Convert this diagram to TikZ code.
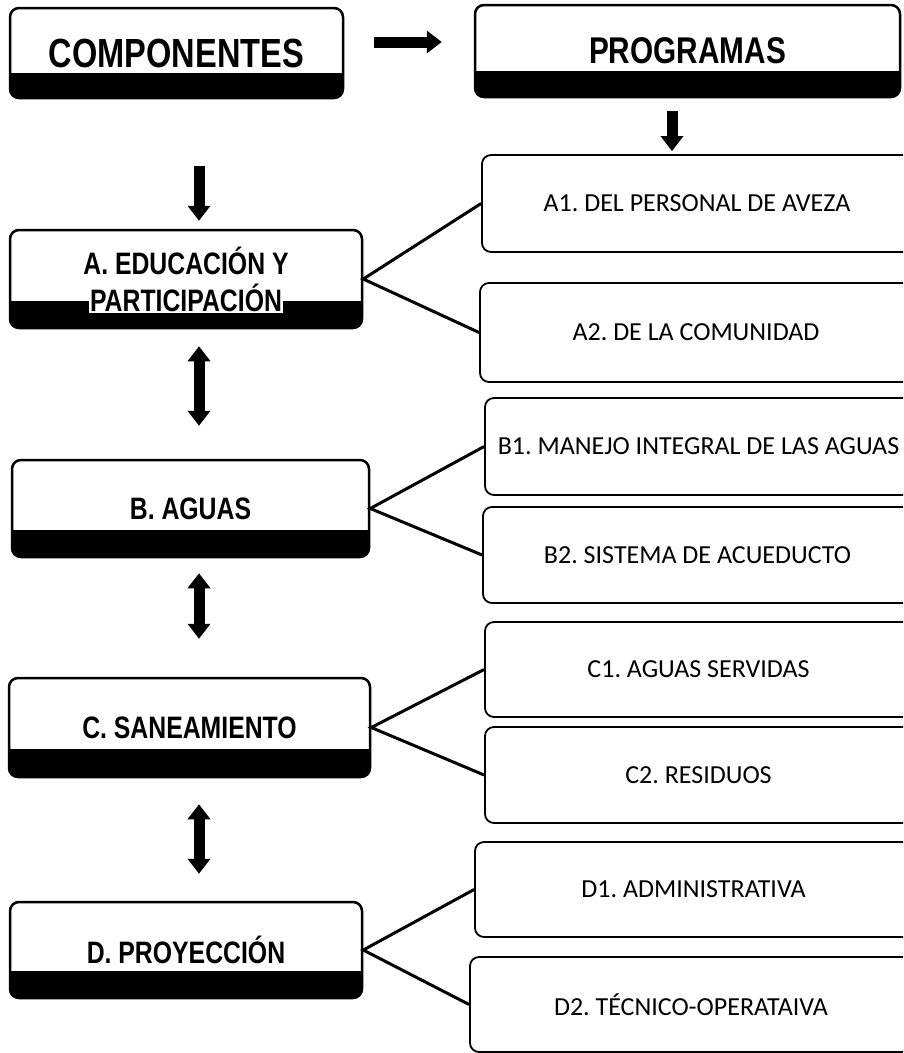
\documentclass[tikz,border=0pt]{standalone}
\usepackage{fontspec}
\setmainfont{Carlito}
\newfontfamily\narrowsans[FakeStretch=0.8]{Liberation Sans}
\usetikzlibrary{arrows.meta,calc}
\newcommand{\whitebg}[1]{{\setlength{\fboxsep}{1.5pt}\colorbox{white}{#1}}}
\tikzset{
  compbox/.style={draw=black, line width=2.5pt, rounded corners=9pt, fill=white, inner sep=0pt, align=center, font=\narrowsans\bfseries\fontsize{31}{37}\selectfont,
    path picture={\fill[black, sharp corners] (path picture bounding box.south west) rectangle ($(path picture bounding box.south east)!0.28!(path picture bounding box.north east)$);}},
  progbox/.style={draw=black, line width=1.8pt, rounded corners=9pt, fill=white, inner sep=0pt, align=center, font=\fontsize{26}{30}\selectfont},
  link/.style={line width=3pt},
  blk/.style={line width=11pt, -{Triangle[width=22pt,length=15pt]}},
  dblk/.style={line width=11pt, {Triangle[width=22pt,length=15pt]}-{Triangle[width=22pt,length=15pt]}}
}
\frenchspacing
\begin{document}
\begin{tikzpicture}[x=1pt,y=1pt]
\useasboundingbox (0,0) rectangle (903,-1053);
\clip (0,0) rectangle (903,-1053);
\coordinate (col) at (199,0);
\coordinate (pcol) at (672,0);
\node[compbox, minimum width=333pt, minimum height=90pt, font=\narrowsans\bfseries\fontsize{40.7}{44}\selectfont] (compo) at (176.5,-53) {\whitebg{COMPONENTES}};
\node[compbox, minimum width=425pt, minimum height=92pt, font=\narrowsans\bfseries\fontsize{37.2}{42}\selectfont] (prog) at (687.5,-51) {\whitebg{PROGRAMAS}};
\node[compbox, minimum width=352pt, minimum height=98pt] (a) at (186,-279) {\whitebg{A. EDUCACIÓN Y}\\\whitebg{PARTICIPACIÓN}};
\node[compbox, minimum width=357pt, minimum height=97pt] (b) at (190.5,-508.5) {\whitebg{B. AGUAS}};
\node[compbox, minimum width=361pt, minimum height=99pt] (c) at (189.5,-727.5) {\whitebg{C. SANEAMIENTO}};
\node[compbox, minimum width=352pt, minimum height=96pt] (d) at (186,-950) {\whitebg{D. PROYECCIÓN}};
\node[progbox, minimum width=430pt, minimum height=97pt] (a1) at (697,-203.5) {A1. DEL PERSONAL DE AVEZA};
\node[progbox, minimum width=432pt, minimum height=99pt] (a2) at (696,-332.5) {A2. DE LA COMUNIDAD};
\node[progbox, minimum width=427pt, minimum height=97pt] (b1) at (698.5,-446.5) {B1. MANEJO INTEGRAL DE LAS AGUAS};
\node[progbox, minimum width=429pt, minimum height=96pt] (b2) at (697.5,-555) {B2. SISTEMA DE ACUEDUCTO};
\node[progbox, minimum width=427pt, minimum height=95pt] (c1) at (698.5,-669.5) {C1. AGUAS SERVIDAS};
\node[progbox, minimum width=427pt, minimum height=96pt] (c2) at (698.5,-775) {C2. RESIDUOS};
\node[progbox, minimum width=437pt, minimum height=95pt] (d1) at (693.5,-889.5) {D1. ADMINISTRATIVA};
\node[progbox, minimum width=442pt, minimum height=95pt] (d2) at (691,-1004.5) {D2. TÉCNICO-OPERATAIVA};
\draw[blk, shorten <=30pt, shorten >=32pt] ([yshift=11pt]compo.east) -- ([yshift=11pt]compo.east -| prog.west);
\draw[blk, shorten <=67pt, shorten >=8pt] (compo.south -| col) -- (a.north -| col);
\draw[blk, shorten <=13pt, shorten >=3pt] (prog.south -| pcol) -- (a1.north -| pcol);
\draw[dblk, shorten <=17pt, shorten >=33pt] (a.south -| col) -- (b.north -| col);
\draw[dblk, shorten <=15pt, shorten >=38pt] (b.south -| col) -- (c.north -| col);
\draw[dblk, shorten <=26pt, shorten >=27pt] (c.south -| col) -- (d.north -| col);
\draw[link] (a1.west) -- (a.east) -- (a2.west);
\draw[link] (b1.west) -- (b.east) -- (b2.west);
\draw[link] (c1.west) -- (c.east) -- (c2.west);
\draw[link] (d1.west) -- (d.east) -- (d2.west);
\end{tikzpicture}
\end{document}
